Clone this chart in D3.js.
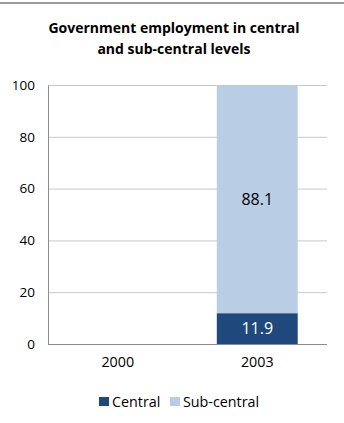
<!DOCTYPE html>
<html>
<head>
<meta charset="utf-8">
<script src="https://cdn.jsdelivr.net/npm/d3@7/dist/d3.min.js"></script>
<style>
  html, body { margin: 0; padding: 0; background: #fff; }
  svg { display: block; font-family: "Open Sans", "Noto Sans", sans-serif; }
</style>
</head>
<body>
<svg id="chart" width="344" height="423"></svg>
<script>
// Chart data
const years = ["2000", "2003"];
const centralValues = [null, 11.9];
const subCentralValues = [null, 88.1];
const seriesNames = ["Central", "Sub-central"];
const seriesColors = ["#1F497D", "#B9CDE5"];
const yTicks = [0, 20, 40, 60, 80, 100];
const titleLines = ["Government employment in central", "and sub-central levels"];

const svg = d3.select("#chart");
const W = 344;
const FONT = "\"Open Sans\", \"Noto Sans\", sans-serif";

// Top frame rule
svg.append("line")
  .attr("x1", 0).attr("x2", W).attr("y1", 3).attr("y2", 3)
  .attr("stroke", "#9a9a9a").attr("stroke-width", 2);

// Title
svg.append("g").selectAll("text").data(titleLines).join("text")
  .attr("x", 174)
  .attr("y", (d, i) => 33 + i * 21)
  .attr("text-anchor", "middle")
  .attr("font-weight", "bold")
  .attr("font-size", 14)
  .attr("fill", "#000")
  .text(d => d);

const plot = { left: 48, right: 327, top: 85, bottom: 344 };

const x = d3.scaleBand().domain(years).range([plot.left, plot.right]).paddingInner(0.42).paddingOuter(0.21);
const y = d3.scaleLinear().domain([0, 100]).range([plot.bottom, plot.top]);

// Gridlines
svg.append("g").selectAll("line").data(yTicks.filter(t => t > 0)).join("line")
  .attr("x1", plot.left).attr("x2", plot.right)
  .attr("y1", d => y(d) + 0.5).attr("y2", d => y(d) + 0.5)
  .attr("stroke", "#c8c8c8").attr("stroke-width", 1);

// Stacked bars
const rows = years.map((yr, i) => ({ year: yr, Central: centralValues[i], "Sub-central": subCentralValues[i] }));
const stack = d3.stack().keys(seriesNames).value((d, k) => d[k] || 0);
const layers = stack(rows);

svg.append("g").selectAll("g").data(layers).join("g")
  .attr("fill", (d, i) => seriesColors[i])
  .selectAll("rect").data(d => d.filter(s => s[1] > s[0])).join("rect")
  .attr("x", d => x(d.data.year))
  .attr("width", x.bandwidth())
  .attr("y", d => y(d[1]))
  .attr("height", d => y(d[0]) - y(d[1]));

// Value labels
svg.append("g").selectAll("g").data(layers).join("g")
  .attr("fill", (d, i) => i === 0 ? "#fff" : "#000")
  .selectAll("text").data(d => d.filter(s => s[1] > s[0])).join("text")
  .attr("x", d => x(d.data.year) + x.bandwidth() / 2)
  .attr("y", d => (y(d[0]) + y(d[1])) / 2)
  .attr("dy", "0.36em")
  .attr("text-anchor", "middle")
  .attr("font-size", 16)
  .text(d => (d[1] - d[0]).toFixed(1));

// Y axis
const yAxis = svg.append("g")
  .attr("transform", `translate(${plot.left},0)`)
  .call(d3.axisLeft(y).tickValues(yTicks).tickSize(0).tickPadding(13));
yAxis.select(".domain").attr("stroke", "#8c8c8c");
yAxis.selectAll("text").attr("font-size", 13.5).attr("fill", "#000").attr("font-family", FONT);

// X axis
const xAxis = svg.append("g")
  .attr("transform", `translate(0,${plot.bottom})`)
  .call(d3.axisBottom(x).tickSize(0).tickPadding(13));
xAxis.select(".domain").attr("stroke", "#8c8c8c").attr("d", `M${plot.left},0.5H${plot.right}`);
xAxis.selectAll("text").attr("font-size", 14.3).attr("fill", "#000").attr("font-family", FONT);

// Legend
const legendItems = [
  { name: seriesNames[0], color: seriesColors[0], x: 99 },
  { name: seriesNames[1], color: seriesColors[1], x: 170 }
];
const lg = svg.append("g").selectAll("g").data(legendItems).join("g")
  .attr("transform", d => `translate(${d.x},397)`);
lg.append("rect").attr("width", 10).attr("height", 9).attr("fill", d => d.color);
lg.append("text").attr("x", 13).attr("y", 9.5).attr("font-size", 14.3).attr("fill", "#000").text(d => d.name);
</script>
</body>
</html>
